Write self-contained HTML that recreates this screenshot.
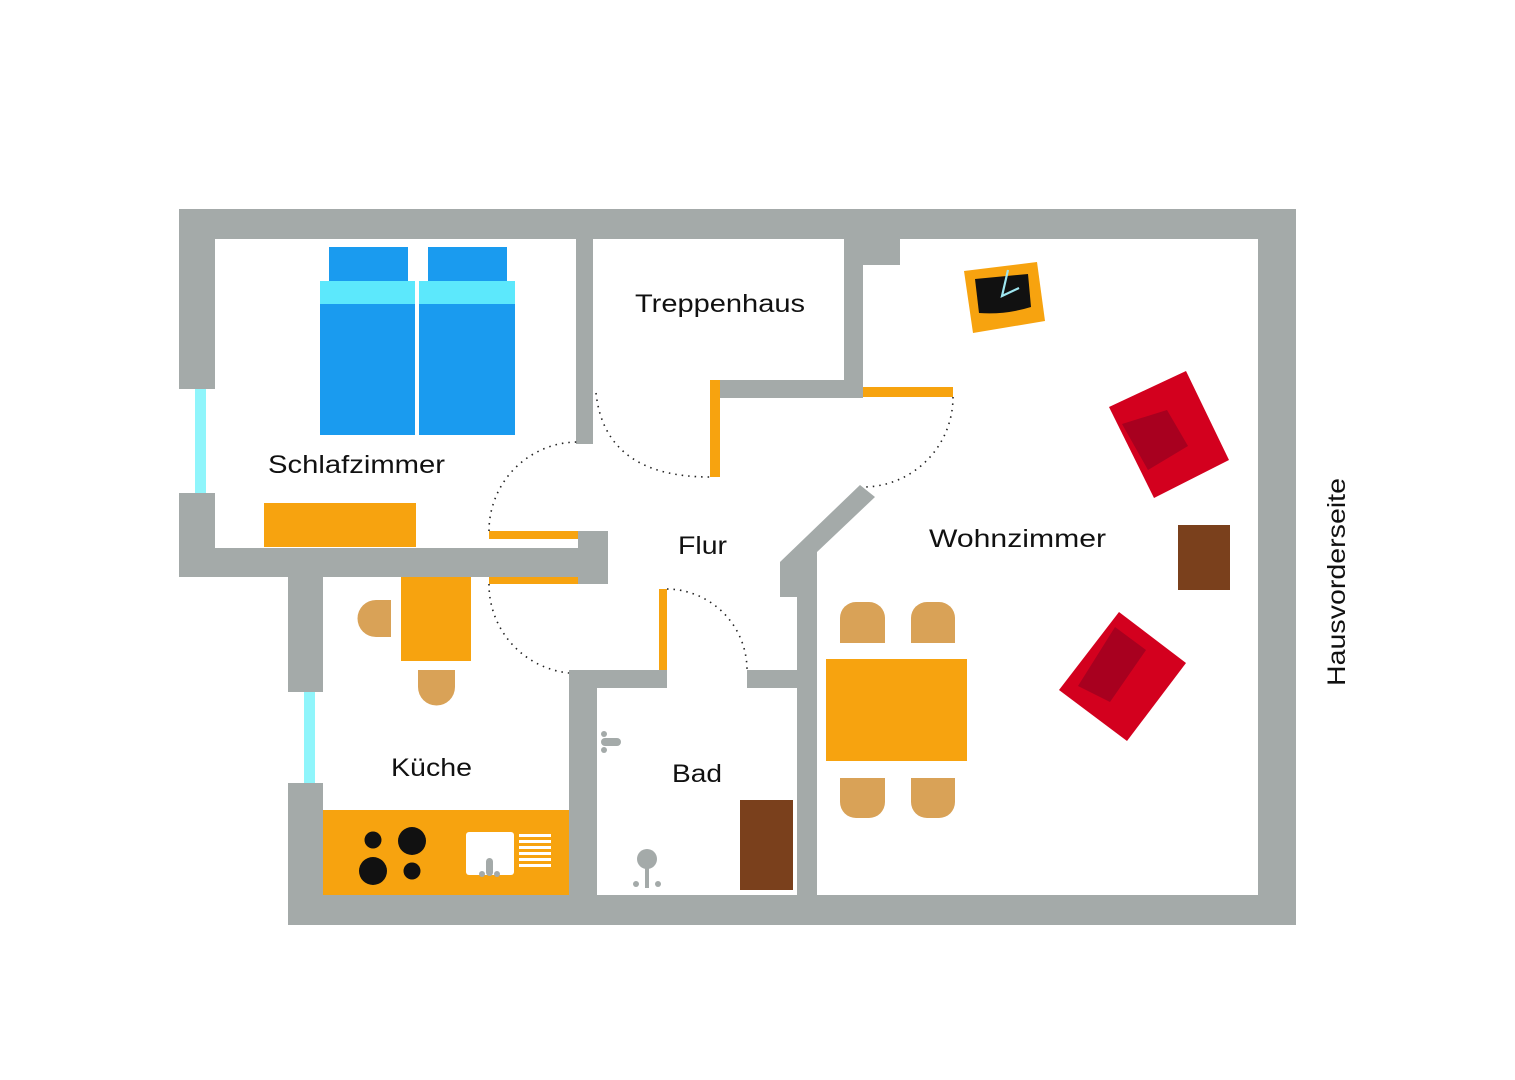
<!DOCTYPE html>
<html><head><meta charset="utf-8"><style>
html,body{margin:0;padding:0;background:#fff;}
svg{display:block;}
text{font-family:"Liberation Sans",sans-serif;font-size:25px;fill:#111;}
</style></head><body>
<svg width="1515" height="1080" viewBox="0 0 1515 1080" xmlns="http://www.w3.org/2000/svg">
<rect width="1515" height="1080" fill="#fff"/>
<g fill="#a4aaa9">
<rect x="179" y="209" width="1117" height="30"/>
<rect x="1258" y="209" width="38" height="716"/>
<rect x="288" y="895" width="1008" height="30"/>
<rect x="179" y="209" width="36" height="180"/>
<rect x="179" y="493" width="36" height="84"/>
<rect x="179" y="548" width="400" height="29"/>
<rect x="578" y="531" width="30" height="53"/>
<rect x="288" y="576" width="35" height="116"/>
<rect x="288" y="783" width="35" height="142"/>
<rect x="576" y="239" width="17" height="205"/>
<rect x="844" y="239" width="19" height="159"/>
<rect x="844" y="239" width="56" height="26"/>
<rect x="720" y="380" width="143" height="18"/>
<polygon points="860,485 875,497 817,552 817,895 797,895 797,597 780,597 780,562"/>
<rect x="569" y="670" width="98" height="18"/>
<rect x="747" y="670" width="50" height="18"/>
<rect x="569" y="670" width="28" height="225"/>
</g>
<rect x="195" y="389" width="11" height="104" fill="#8ff5fb"/>
<rect x="304" y="692" width="11" height="91" fill="#8ff5fb"/>
<g fill="#f7a30f">
<rect x="489" y="531" width="89" height="8"/>
<rect x="489" y="577" width="89" height="7"/>
<rect x="710" y="380" width="10" height="97"/>
<rect x="863" y="387" width="90" height="10"/>
<rect x="659" y="589" width="8" height="81"/>
</g>
<g fill="none" stroke="#222" stroke-width="1.6" stroke-dasharray="1.5 5">
<path d="M489 531 A89 89 0 0 1 578 442"/>
<path d="M489 584 A89 89 0 0 0 569 673"/>
<path d="M596 393 Q605 477 710 477"/>
<path d="M953 397 A90 90 0 0 1 863 487"/>
<path d="M667 589 A81 81 0 0 1 747 670"/>
</g>
<g fill="#1a9bef">
<rect x="329" y="247" width="79" height="34"/>
<rect x="428" y="247" width="79" height="34"/>
<rect x="320" y="304" width="95" height="131"/>
<rect x="419" y="304" width="96" height="131"/>
</g>
<rect x="320" y="281" width="95" height="23" fill="#5ce8fc"/>
<rect x="419" y="281" width="96" height="23" fill="#5ce8fc"/>
<rect x="264" y="503" width="152" height="44" fill="#f7a30f"/>
<rect x="401" y="577" width="70" height="84" fill="#f7a30f"/>
<path d="M391 600 L376 600 A18 18 0 0 0 376 637 L391 637 Z" fill="#d9a257"/>
<path d="M418 670 L455 670 L455 687 A18 18 0 0 1 418 687 Z" fill="#d9a257"/>
<rect x="323" y="810" width="246" height="85" fill="#f7a30f"/>
<g fill="#111">
<circle cx="373" cy="840" r="8.5"/>
<circle cx="412" cy="841" r="14"/>
<circle cx="373" cy="871" r="14"/>
<circle cx="412" cy="871" r="8.5"/>
</g>
<rect x="466" y="832" width="48" height="43" rx="3" fill="#fff"/>
<rect x="486" y="858" width="7" height="18" rx="3.5" fill="#a4aaa9"/>
<circle cx="482" cy="874" r="3" fill="#a4aaa9"/>
<circle cx="497" cy="874" r="3" fill="#a4aaa9"/>
<g fill="#fff">
<rect x="519" y="834" width="32" height="3"/>
<rect x="519" y="840" width="32" height="3"/>
<rect x="519" y="846" width="32" height="3"/>
<rect x="519" y="852" width="32" height="3"/>
<rect x="519" y="858" width="32" height="3"/>
<rect x="519" y="864" width="32" height="3"/>
</g>
<g fill="#a4aaa9">
<circle cx="604" cy="734" r="3"/>
<rect x="601" y="738" width="20" height="8" rx="4"/>
<circle cx="604" cy="750" r="3"/>
<circle cx="647" cy="859" r="10"/>
<rect x="645" y="862" width="4" height="26"/>
<circle cx="636" cy="884" r="3"/>
<circle cx="658" cy="884" r="3"/>
</g>
<rect x="740" y="800" width="53" height="90" fill="#7a401c"/>
<g fill="#d9a257">
<path d="M840 643 L840 618 A16 16 0 0 1 856 602 L869 602 A16 16 0 0 1 885 618 L885 643 Z"/>
<path d="M911 643 L911 618 A16 16 0 0 1 927 602 L939 602 A16 16 0 0 1 955 618 L955 643 Z"/>
<path d="M840 778 L885 778 L885 802 A16 16 0 0 1 869 818 L856 818 A16 16 0 0 1 840 802 Z"/>
<path d="M911 778 L955 778 L955 802 A16 16 0 0 1 939 818 L927 818 A16 16 0 0 1 911 802 Z"/>
</g>
<rect x="826" y="659" width="141" height="102" fill="#f7a30f"/>
<rect x="1178" y="525" width="52" height="65" fill="#7a401c"/>
<polygon points="1109,407 1186,371 1229,460 1154,498" fill="#d3001e"/>
<polygon points="1122,424 1167,410 1188,446 1148,470" fill="#a8001f"/>
<polygon points="1059,690 1119,612 1186,663 1127,741" fill="#d3001e"/>
<polygon points="1078,686 1115,627 1146,650 1110,702" fill="#a8001f"/>
<polygon points="964,271 1037,262 1045,321 973,333" fill="#f7a30f"/>
<path d="M975 279 L1028 274 L1031 307 Q1005 315 979 313 Z" fill="#111"/>
<path d="M1008 270 L1002 296 L1019 288" fill="none" stroke="#9ee6f0" stroke-width="2.2"/>
<text x="635" y="312" textLength="170" lengthAdjust="spacingAndGlyphs">Treppenhaus</text>
<text x="268" y="473" textLength="177" lengthAdjust="spacingAndGlyphs">Schlafzimmer</text>
<text x="678" y="554" textLength="49" lengthAdjust="spacingAndGlyphs">Flur</text>
<text x="929" y="547" textLength="177" lengthAdjust="spacingAndGlyphs">Wohnzimmer</text>
<text x="391" y="776" textLength="81" lengthAdjust="spacingAndGlyphs">Küche</text>
<text x="672" y="782" textLength="50" lengthAdjust="spacingAndGlyphs">Bad</text>
<text x="1345" y="582" text-anchor="middle" textLength="208" lengthAdjust="spacingAndGlyphs" transform="rotate(-90 1345 582)">Hausvorderseite</text>
</svg>
</body></html>
